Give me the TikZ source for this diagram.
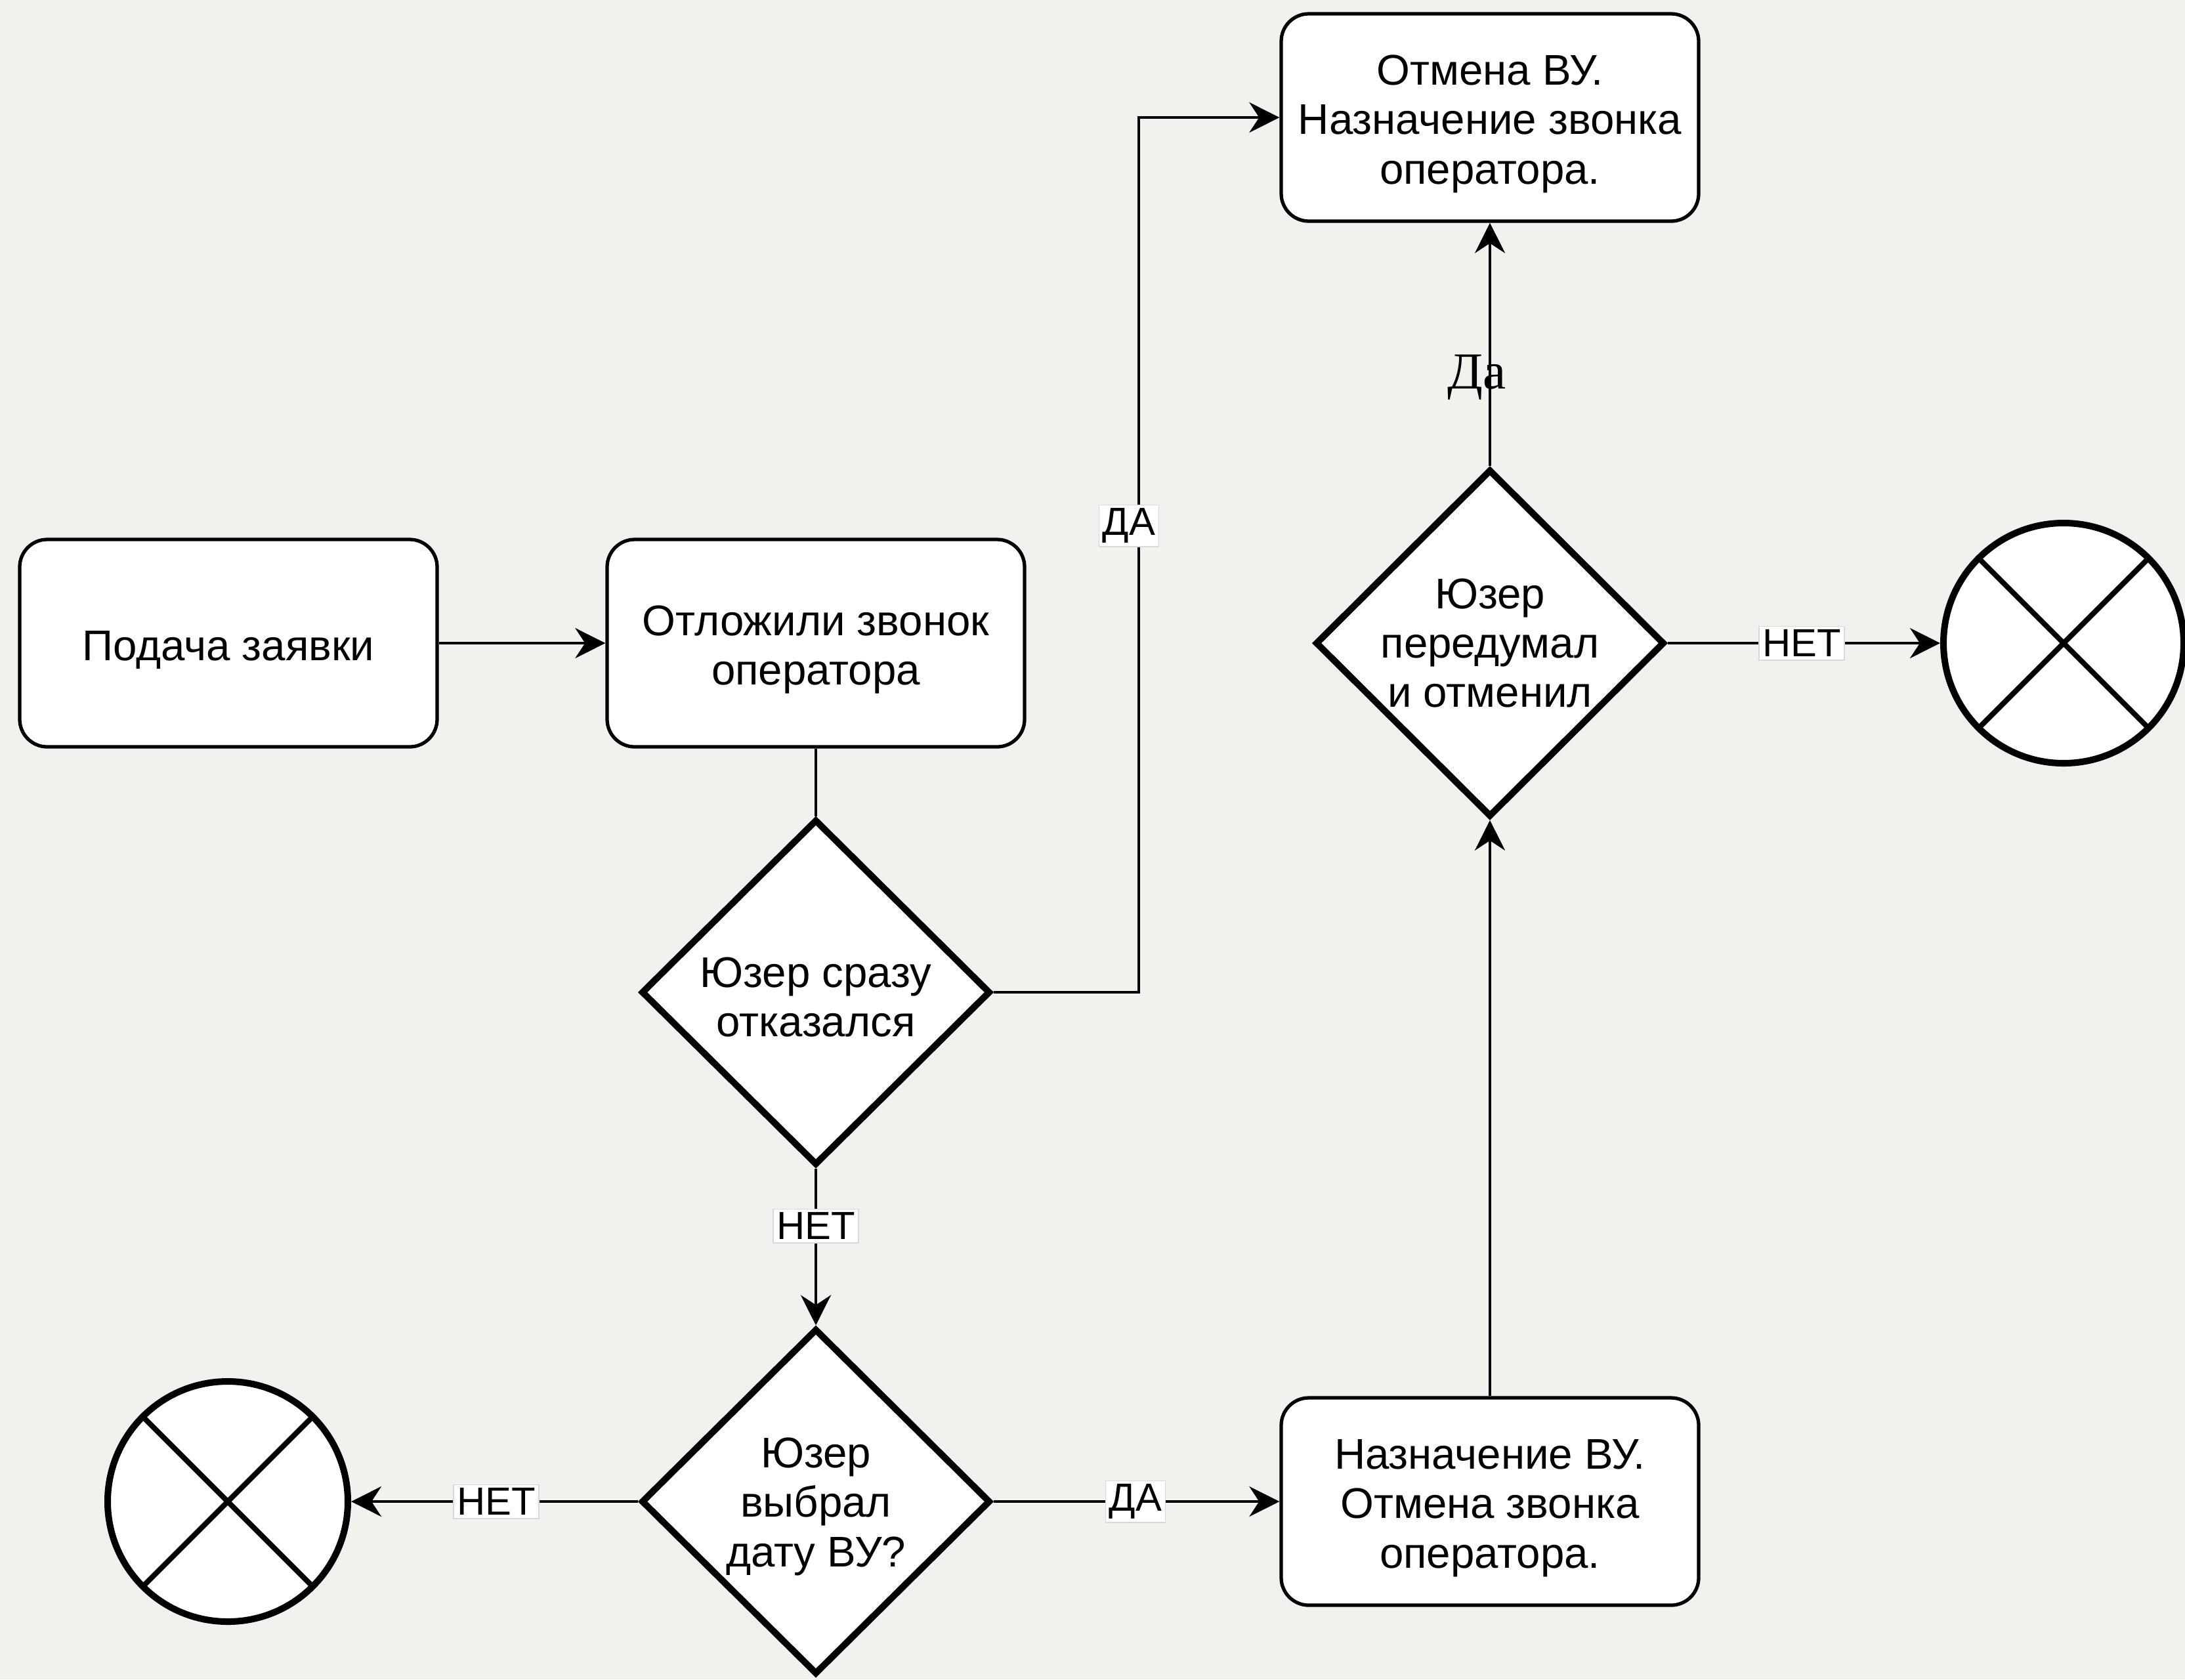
\documentclass[tikz,border=0pt]{standalone}
\usepackage{fontspec}
\setmainfont{Liberation Sans}
\newfontfamily\serifru{Liberation Serif}
\usetikzlibrary{shapes.geometric,arrows.meta}
\definecolor{paper}{RGB}{243,241,237}
\newcommand\boxgap{\rule{0pt}{0.65cm}}
\newcommand\diagap{\rule{0pt}{0.61cm}}

\begin{document}
\begin{tikzpicture}[auto,
    process/.style ={rectangle, draw, fill=white, line width=1.5pt, rounded corners=0.42cm,
      minimum width=6.36cm, minimum height=3.16cm, align=center,
      font=\fontsize{18.6}{21.45}\selectfont},
    decision/.style ={diamond, draw, fill=white, line width=2.85pt, inner sep=0pt,
      minimum width=5.32cm, minimum height=5.27cm, align=center,
      font=\fontsize{18.6}{21.45}\selectfont},
    terminal/.style ={circle, draw, fill=white, line width=2.85pt, inner sep=0pt, minimum size=3.66cm},
    cross/.style ={line width=2.3pt},
    flow/.style ={line width=1.3pt, -{Stealth[length=4.6mm, width=4.6mm, inset=1.5mm]}},
    link/.style ={line width=1.3pt},
    answer/.style ={fill=white, draw=black!15, line width=0.4pt, inner sep=1.5pt,
      font=\fontsize{17}{19}\selectfont}]
   \useasboundingbox (0,0) rectangle (33.29,-25.59);
   \fill[paper] (0,0) rectangle (33.29,-25.59);

   \node[process] (request)  at (3.48,-9.80)  {\boxgap Подача заявки};
   \node[process] (postpone) at (12.43,-9.80) {\boxgap Отложили звонок\\оператора};
   \node[process] (cancelvu) at (22.70,-1.79) {\boxgap Отмена ВУ.\\Назначение звонка\\оператора.};
   \node[process] (assignvu) at (22.70,-22.88) {\boxgap Назначение ВУ.\\Отмена звонка\\оператора.};
   \node[decision] (refused) at (12.43,-15.12) {\diagap Юзер сразу\\отказался};
   \node[decision] (chosen)  at (12.43,-22.88) {\diagap Юзер\\выбрал\\дату ВУ?};
   \node[decision] (changed) at (22.70,-9.80)  {Юзер\\передумал\\и отменил};
   \node[terminal] (endright) at (31.44,-9.80) {};
   \node[terminal] (endleft)  at (3.47,-22.88) {};
   \coordinate (jog) at (17.35,-9.80);

   % crosses in the end circles
   \draw[cross] ([shift={(45:1.83)}]endright.center) -- ([shift={(225:1.83)}]endright.center);
   \draw[cross] ([shift={(135:1.83)}]endright.center) -- ([shift={(315:1.83)}]endright.center);
   \draw[cross] ([shift={(45:1.83)}]endleft.center) -- ([shift={(225:1.83)}]endleft.center);
   \draw[cross] ([shift={(135:1.83)}]endleft.center) -- ([shift={(315:1.83)}]endleft.center);

   \draw[flow] (request) to (postpone);
   \draw[link] (postpone) to (refused);
   \draw[flow] (refused.east) -| (jog) |- (cancelvu.west);
   \draw[flow] (refused) to (chosen);
   \draw[flow] (chosen.west) to (endleft.east);
   \draw[flow] (chosen.east) to (assignvu.west);
   \draw[flow] (assignvu) to (changed);
   \draw[flow] (changed) to (cancelvu);
   \draw[flow] (changed.east) to (endright.west);

   \node[answer] (yesrefused) at (17.20,-8.01)  {ДА};
   \node[answer] (norefused)  at (12.43,-18.68) {НЕТ};
   \node[answer] (nochosen)   at (7.56,-22.88)  {НЕТ};
   \node[answer] (yeschosen)  at (17.30,-22.88) {ДА};
   \node[answer] (nochanged)  at (27.45,-9.80)  {НЕТ};
   \node[inner sep=0pt, font=\serifru\fontsize{22.5}{24}\selectfont] (yeschanged) at (22.50,-5.75) {Да};
 \end{tikzpicture}
\end{document}
